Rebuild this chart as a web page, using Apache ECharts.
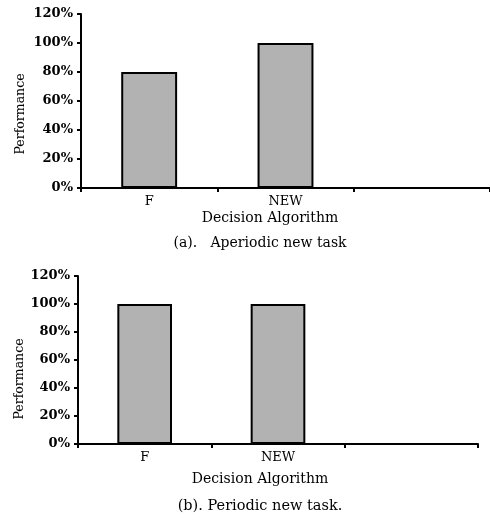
<!DOCTYPE html>
<html><head><meta charset="utf-8">
<script src="https://cdn.jsdelivr.net/npm/echarts@6/dist/echarts.min.js"></script>
<style>html,body{margin:0;padding:0;background:#fff}#c{width:490px;height:521px}</style>
</head><body><div id="c"></div>
<script>
const categories = ['F', 'NEW', ''];
const valuesA = [0.8, 1.0, null];
const valuesB = [1.0, 1.0, null];
const yTicks = [0, 0.2, 0.4, 0.6, 0.8, 1.0, 1.2];
const xAxisTitle = 'Decision Algorithm';
const yAxisTitle = 'Performance';
const captionA = '(a).   Aperiodic new task';
const captionB = '(b). Periodic new task.';

const serif = '"DejaVu Serif", "Liberation Serif", serif';
const chart = echarts.init(document.getElementById('c'), null, {renderer: 'canvas'});

function xAx(gi) {
  return {
    type: 'category', gridIndex: gi, data: categories,
    axisLine: {lineStyle: {color: '#000', width: 2}},
    axisTick: {show: true, length: 4, lineStyle: {color: '#000', width: 2}, alignWithLabel: false},
    axisLabel: {color: '#000', fontFamily: serif, fontSize: 13, margin: 7}
  };
}
function yAx(gi) {
  return {
    type: 'value', gridIndex: gi, min: yTicks[0], max: yTicks[yTicks.length - 1], interval: 0.2,
    axisLine: {show: true, lineStyle: {color: '#000', width: 2}},
    axisTick: {show: true, length: 4, lineStyle: {color: '#000', width: 2}},
    splitLine: {show: false},
    axisLabel: {color: '#000', fontFamily: serif, fontWeight: 'bold', fontSize: 13, margin: 8,
      formatter: v => Math.round(v * 100) + '%'}
  };
}
const barStyle = {color: '#b2b2b2', borderColor: '#000', borderWidth: 2};
function txt(t, x, y, size, rot) {
  return {type: 'text', position: [x, y], rotation: rot || 0,
    style: {text: t, font: size + 'px ' + serif, fill: '#000', textAlign: 'center', textVerticalAlign: 'middle'}};
}

chart.setOption({
  animation: false,
  grid: [
    {left: 81, top: 14, width: 416, height: 174},
    {left: 78, top: 276, width: 400, height: 168}
  ],
  xAxis: [xAx(0), xAx(1)],
  yAxis: [yAx(0), yAx(1)],
  series: [
    {type: 'bar', xAxisIndex: 0, yAxisIndex: 0, data: valuesA, barWidth: '41%', itemStyle: barStyle},
    {type: 'bar', xAxisIndex: 1, yAxisIndex: 1, data: valuesB, barWidth: '41%', itemStyle: barStyle}
  ],
  graphic: [
    txt(yAxisTitle, 21, 114, 12.5, Math.PI / 2),
    txt(yAxisTitle, 20, 379, 12.5, Math.PI / 2),
    txt(xAxisTitle, 270, 218, 14),
    txt(xAxisTitle, 260, 479, 14),
    txt(captionA, 260, 243, 14),
    txt(captionB, 260, 506, 14.5)
  ]
});
</script></body></html>
